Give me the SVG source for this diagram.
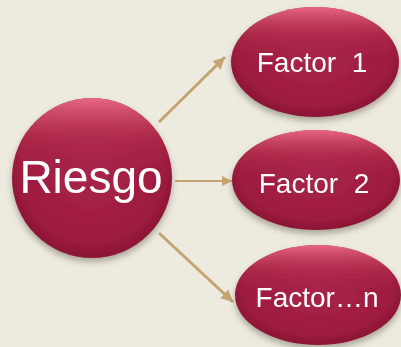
<svg xmlns="http://www.w3.org/2000/svg" width="401" height="347" viewBox="0 0 401 347">
<style>
.node{fill:url(#body)}
.gloss{fill:url(#top)}
.lbl{font-family:"Liberation Sans",Arial,sans-serif;fill:#ffffff;text-anchor:middle}
.conn{stroke:#C4A470;fill:none}
</style>
<defs>
<radialGradient id="body" cx="0.5" cy="0.45" r="0.55">
<stop offset="0" stop-color="#A8244A"/>
<stop offset="0.8" stop-color="#9E1C3E"/>
<stop offset="1" stop-color="#8A1535"/>
</radialGradient>
<linearGradient id="top" x1="0" y1="0" x2="0" y2="1">
<stop offset="0" stop-color="#F0708C" stop-opacity="0.9"/>
<stop offset="0.25" stop-color="#C8405F" stop-opacity="0.35"/>
<stop offset="0.5" stop-color="#A8244A" stop-opacity="0"/>
</linearGradient>
<filter id="sh" x="-20%" y="-20%" width="140%" height="150%">
<feGaussianBlur in="SourceAlpha" stdDeviation="3"/>
<feOffset dy="4" result="b"/>
<feFlood flood-color="#5a5040" flood-opacity="0.45"/>
<feComposite in2="b" operator="in"/>
<feMerge><feMergeNode/><feMergeNode in="SourceGraphic"/></feMerge>
</filter>
<marker id="ah" viewBox="0 0 10 10" refX="10" refY="5" markerWidth="4" markerHeight="4" markerUnits="strokeWidth" orient="auto">
<path d="M0,0 L10,5 L0,10 z" fill="#C4A470"/>
</marker>
<marker id="ah2" viewBox="0 0 10 10" refX="10" refY="5" markerWidth="5" markerHeight="5" markerUnits="strokeWidth" orient="auto">
<path d="M0,0 L10,5 L0,10 z" fill="#C4A470"/>
</marker>
</defs>
<rect width="401" height="347" fill="#EDEBE0"/>
<g id="connectors">
<line class="conn" x1="159" y1="122" x2="225" y2="57" stroke-width="3" marker-end="url(#ah)"/>
<line class="conn" x1="175" y1="181" x2="232" y2="181" stroke-width="2" marker-end="url(#ah2)"/>
<line class="conn" x1="159" y1="233" x2="233" y2="302" stroke-width="3" marker-end="url(#ah)"/>
</g>
<g id="riesgo" filter="url(#sh)">
<circle class="node" cx="92" cy="178" r="80"/>
<circle class="gloss" cx="92" cy="178" r="80"/>
<text class="lbl" x="91" y="193" font-size="46">Riesgo</text>
</g>
<g id="factor1" filter="url(#sh)">
<ellipse class="node" cx="315" cy="62" rx="84" ry="55"/>
<ellipse class="gloss" cx="315" cy="62" rx="84" ry="55"/>
<text class="lbl" x="312" y="72" font-size="28" xml:space="preserve">Factor  1</text>
</g>
<g id="factor2" filter="url(#sh)">
<ellipse class="node" cx="316" cy="180" rx="84" ry="50"/>
<ellipse class="gloss" cx="316" cy="180" rx="84" ry="50"/>
<text class="lbl" x="314" y="193" font-size="28" xml:space="preserve">Factor  2</text>
</g>
<g id="factorn" filter="url(#sh)">
<ellipse class="node" cx="318" cy="295" rx="83" ry="50"/>
<ellipse class="gloss" cx="318" cy="295" rx="83" ry="50"/>
<text class="lbl" x="317" y="307" font-size="28">Factor…n</text>
</g>
</svg>
